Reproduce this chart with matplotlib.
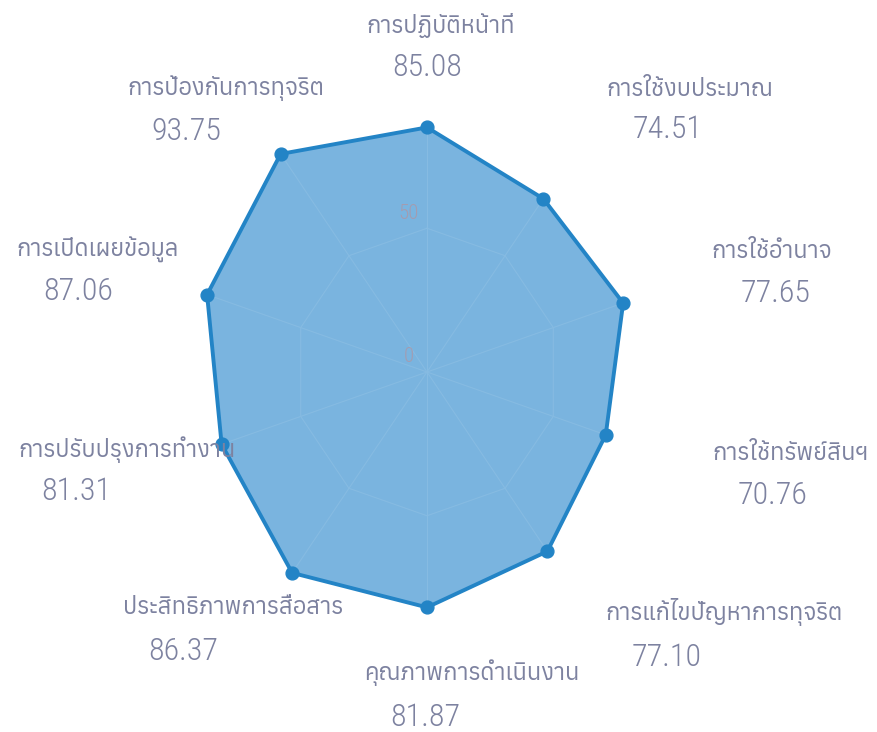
import numpy as np
import matplotlib
matplotlib.use("Agg")
import matplotlib.pyplot as plt
from matplotlib import font_manager
from matplotlib.ft2font import FT2Font

# Datos del radar
categorias = [
    "การปฏิบัติหน้าที่", "การใช้งบประมาณ", "การใช้อำนาจ", "การใช้ทรัพย์สินฯ",
    "การแก้ไขปัญหาการทุจริต", "คุณภาพการดำเนินงาน", "ประสิทธิภาพการสื่อสาร",
    "การปรับปรุงการทำงาน", "การเปิดเผยข้อมูล", "การป้องกันการทุจริต",
]
valores = [85.08, 74.51, 77.65, 70.76, 77.10, 81.87, 86.37, 81.31, 87.06, 93.75]
ticks_r = [0, 50]

# Buscar una fuente con glifos tailandeses
thai = []
for f in font_manager.fontManager.ttflist:
    try:
        if 0x0E01 in FT2Font(f.fname).get_charmap():
            thai.append(f.name)
    except Exception:
        pass
fam_nombre = sorted(set(thai))[:1] + ["DejaVu Sans"]
nombres_fuentes = {f.name for f in font_manager.fontManager.ttflist}
fam_num = ["Liberation Sans"]
for cand in ["Roboto Condensed", "Liberation Sans Narrow", "Roboto"]:
    if cand in nombres_fuentes:
        fam_num = [cand]
        break

# Posiciones de las etiquetas (pixeles: centro nombre, centro valor)
pos_nombre = [(441, 25), (690, 90), (772, 252), (791, 453), (724, 612),
              (472, 673), (233, 608), (127, 450), (98, 250), (226, 88)]
pos_valor = [(427, 67), (668, 130), (776, 293), (773, 495), (667, 657),
             (425, 717), (183, 652), (76, 492), (78, 292), (186, 132)]

W, H = 877, 732
fig = plt.figure(figsize=(W / 100, H / 100), dpi=100)
cx, cy, rx, ry = 427, 372, 265.6, 287.5
ax = fig.add_axes([(cx - rx) / W, (H - cy - ry) / H, 2 * rx / W, 2 * ry / H], projection="polar")
ax.set_aspect("auto")
ax.set_theta_zero_location("N")
ax.set_theta_direction(-1)
ax.set_ylim(0, 100)
ax.axis("off")

n = len(categorias)
ang = np.linspace(0, 2 * np.pi, n, endpoint=False)
ang_c = np.append(ang, ang[0])
val_c = np.append(valores, valores[0])

color_linea = "#2384c6"
color_relleno = "#7ab4df"
color_texto = "#7d82a0"

ax.fill(ang_c, val_c, color=color_relleno, alpha=1, zorder=1)

# Rejilla tenue dentro del poligono
for a, v in zip(ang, valores):
    ax.plot([a, a], [0, v], color="#86bbe2", lw=0.8, zorder=2)
for t in ticks_r[1:]:
    ax.plot(ang_c, [t] * (n + 1), color="#86bbe2", lw=0.8, zorder=2)

ax.plot(ang_c, val_c, color=color_linea, lw=2.8, zorder=3)
ax.scatter(ang, valores, s=85, color=color_linea, zorder=4)

for t in ticks_r:
    ax.annotate(str(t), (0, t), xytext=(-13, 4), textcoords="offset points",
                ha="center", va="bottom", fontsize=15, color="#a49cb0",
                family=fam_num, fontweight="light", zorder=5)

for i in range(n):
    x, y = pos_nombre[i]
    fig.text(x / W, 1 - y / H, categorias[i], ha="center", va="center",
             fontsize=17, color=color_texto, family=fam_nombre)
    x, y = pos_valor[i]
    fig.text(x / W, 1 - y / H, f"{valores[i]:.2f}", ha="center", va="center",
             fontsize=23, color=color_texto, family=fam_num, fontweight="light")

fig.savefig("out.png", dpi=100)
